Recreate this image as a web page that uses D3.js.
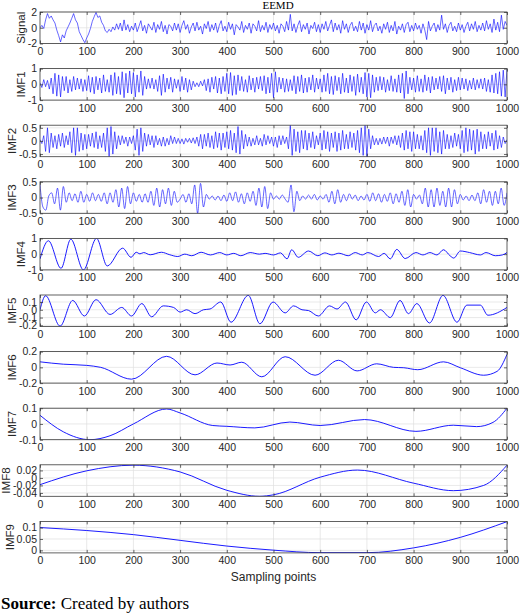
<!DOCTYPE html>
<html>
<head>
<meta charset="utf-8">
<script src="https://cdn.jsdelivr.net/npm/d3@7"></script>
<style>
body { margin: 0; background: #fff; }
</style>
</head>
<body>
<div id="chart"></div>
<script>
// sample axis
const sampleTicks = [0, 100, 200, 300, 400, 500, 600, 700, 800, 900, 1000];

const panelNames = ["Signal", "IMF1", "IMF2", "IMF3", "IMF4", "IMF5", "IMF6", "IMF7", "IMF8", "IMF9"];
const yTicks = [[-2, 0, 2], [-1, 0, 1], [-0.5, 0, 0.5], [-0.5, 0, 0.5], [-1, 0, 1],
    [-0.2, -0.1, 0, 0.1], [-0.2, 0, 0.2], [-0.1, 0, 0.1], [-0.04, -0.02, 0, 0.02], [0, 0.05, 0.1]];
const yRanges = [[-2, 2], [-1, 1], [-0.6, 0.6], [-0.5, 0.5], [-1, 1],
    [-0.215, 0.19], [-0.2, 0.2], [-0.1, 0.1], [-0.049, 0.035], [-0.011, 0.127]];

// signal, read every 4 samples
const signalVals = [
    0.0, 0.3, -0.1, 1.0, 1.8, 1.2, 1.5, 1.0, 0.6, -0.3, -1.0, -1.8, -0.9, -1.3, -0.4, 0.1, 0.6, 1.2, 1.8, 1.0, 0.6, -0.5, -1.0, -1.5, -1.9,
    -1.3, -0.8, -0.1, 0.8, 1.4, 1.95, 1.3, 1.5, 0.7, 0.3, -0.4, -0.6, -0.2, -0.5, 0.1, -0.3, 0.5, -0.2, 0.6, -0.4, 1.0, -0.3, 0.4, -0.5, 0.2,
    -0.3, 0.6, -0.5, 0.2, 0.9, -0.4, 0.3, -0.7, 0.5, 0.1, -0.3, 0.7, -0.6, 0.4, -0.2, 0.8, -0.5, 0.3, -0.8, 0.4, 0.2, -0.4, 0.6, -0.3, 0.5,
    -0.6, 0.3, 0.9, -0.2, 0.4, -0.7, 0.1, 0.6, -0.4, 0.7, -0.3, 0.2, -0.8, 0.5, -0.1, 0.8, -0.5, 0.4, -0.3, 0.6, -0.6, 0.3, 0.9, -0.4, 0.2,
    -0.5, 0.7, -0.2, 0.5, -0.9, 0.4, 0.1, -0.3, 0.8, -0.6, 0.3, -0.2, 0.6, -0.7, 0.5, 0.2, -0.4, 0.9, -0.5, 0.3, -0.3, 0.7, -0.6, 0.4, -0.2,
    0.6, -0.4, 0.3, -0.7, 0.5, 0.2, -0.5, 0.8, -0.3, 1.7, -0.4, 0.5, -0.6, 0.3, 0.9, -0.5, 0.4, -0.2, 0.6, -0.8, 0.3, -0.1, 0.7, -0.5, 0.4,
    -0.6, 0.5, -0.2, 0.8, -0.4, 0.3, 1.0, -0.5, 0.6, -0.3, 0.4, -0.7, 0.9, -0.2, 0.5, -0.6, 0.3, 0.7, -0.4, 0.2, -0.5, 0.8, -0.3, 0.6, -0.7,
    0.4, -0.3, 0.9, -0.5, 0.3, 0.6, -0.4, 0.2, -0.7, 0.5, -0.2, 0.7, -0.6, 0.3, -0.4, 0.8, -0.8, 0.2, -0.3, 0.5, -0.6, 0.4, 0.7, -0.5, 0.3,
    -0.4, 0.6, -0.2, 0.3, -0.7, 0.5, -0.3, -1.5, 0.8, -0.4, 0.2, 0.6, -0.5, 0.4, -0.3, 1.6, -0.2, 0.5, -0.6, 0.3, 0.7, -0.4, 0.2, -0.5, 0.6,
    -0.3, 0.4, -0.6, 0.2, 0.7, -0.4, 0.5, -0.2, 0.8, -0.5, 0.3, -0.3, 0.6, -0.4, 0.9, -0.2, 0.5, -0.6, 1.1, -0.3, 0.7, -0.5, 1.6, -0.2, 0.8,
    0.3
];

// IMF1, every 4 samples
const imf1Vals = [
    0.1, -0.2, 0.3, -0.15, 0.25, -0.3, 0.4, -0.6, 0.7, -0.75, 0.6, -0.8, 0.5, -0.4, 0.5, -0.55, 0.3, -0.45, 0.5, -0.35, 0.4, -0.3, 0.35, -0.45, 0.3,
    -0.4, 0.55, -0.5, 0.45, -0.6, 0.5, -0.35, 0.4, -0.55, 0.6, -0.45, 0.3, -0.5, 0.6, -0.7, 0.75, -0.6, 0.5, -0.65, 0.8, -0.85, 0.7, -0.55, 0.85, -0.6,
    0.75, -0.8, 0.6, -0.5, 0.85, -0.7, 0.5, -0.3, 0.35, -0.25, 0.4, -0.3, 0.3, -0.45, 0.55, -0.7, 0.65, -0.5, 0.4, -0.3, 0.45, -0.5, 0.35, -0.25, 0.3,
    -0.45, 0.5, -0.35, 0.4, -0.5, 0.3, -0.35, 0.2, -0.15, 0.1, -0.15, 0.2, -0.1, 0.3, -0.4, 0.35, -0.5, 0.45, -0.3, 0.5, -0.55, 0.4, -0.6, 0.5, -0.45,
    0.7, -0.6, 0.75, -0.7, 0.55, -0.65, 0.6, -0.4, 0.5, -0.45, 0.3, -0.5, 0.55, -0.35, 0.4, -0.5, 0.45, -0.3, 0.5, -0.4, 0.55, -0.6, 0.45, -0.55, 0.7,
    -0.85, 0.8, -0.5, 0.45, -0.3, 0.4, -0.5, 0.35, -0.45, 0.3, -0.4, 0.55, -0.6, 0.5, -0.45, 0.6, -0.55, 0.4, -0.5, 0.45, -0.35, 0.6, -0.5, 0.4, -0.3,
    0.35, -0.5, 0.6, -0.45, 0.7, -0.6, 0.5, -0.65, 0.55, -0.4, 0.45, -0.6, 0.7, -0.5, 0.4, -0.55, 0.6, -0.45, 0.5, -0.7, 0.65, -0.5, 0.45, -0.6, 0.75,
    -0.8, 0.7, -0.85, 0.6, -0.5, 0.45, -0.4, 0.5, -0.35, 0.45, -0.5, 0.3, -0.4, 0.55, -0.45, 0.35, -0.5, 0.6, -0.55, 0.7, -0.9, 0.85, -0.6, 0.45, -0.35,
    0.4, -0.5, 0.55, -0.45, 0.35, -0.5, 0.6, -0.4, 0.45, -0.55, 0.5, -0.35, 0.4, -0.3, 0.5, -0.45, 0.55, -0.6, 0.4, -0.35, 0.45, -0.5, 0.3, -0.4, 0.45,
    -0.35, 0.4, -0.3, 0.35, -0.4, 0.25, -0.3, 0.4, -0.35, 0.3, -0.25, 0.35, -0.3, 0.4, -0.45, 0.3, -0.5, 0.6, -0.55, 0.7, -0.6, 0.8, -0.75, 0.9, -0.8,
    0.95
];

// IMF2, every 4 samples
const imf2Vals = [
    0.05, -0.1, 0.2, -0.4, 0.5, -0.45, 0.3, -0.25, 0.2, -0.3, 0.25, -0.2, 0.3, -0.25, 0.2, -0.15, 0.35, -0.45, 0.5, -0.55, 0.5, -0.4, 0.3, -0.35, 0.25,
    -0.3, 0.25, -0.2, 0.3, -0.25, 0.35, -0.3, 0.2, -0.25, 0.3, -0.4, 0.5, -0.6, 0.55, -0.5, 0.35, -0.3, 0.2, -0.15, 0.2, -0.1, 0.15, -0.2, 0.15, -0.1,
    0.2, -0.35, 0.45, -0.55, 0.5, -0.4, 0.3, -0.2, 0.25, -0.15, 0.2, -0.25, 0.2, -0.15, 0.1, -0.2, 0.15, -0.2, 0.1, -0.15, 0.2, -0.1, 0.15, -0.1, 0.1,
    -0.1, 0.08, -0.12, 0.1, -0.05, 0.1, -0.08, 0.12, -0.1, 0.15, -0.2, 0.25, -0.3, 0.25, -0.2, 0.3, -0.25, 0.2, -0.3, 0.35, -0.25, 0.3, -0.35, 0.3, -0.25,
    0.35, -0.3, 0.4, -0.35, 0.3, -0.45, 0.55, -0.5, 0.4, -0.3, 0.25, -0.2, 0.15, -0.2, 0.1, -0.15, 0.2, -0.15, 0.1, -0.2, 0.25, -0.15, 0.2, -0.1, 0.15,
    -0.2, 0.15, -0.25, 0.2, -0.15, 0.2, -0.1, 0.15, -0.3, 0.6, -0.55, 0.45, -0.4, 0.35, -0.45, 0.4, -0.3, 0.4, -0.35, 0.3, -0.25, 0.35, -0.3, 0.2, -0.15,
    0.3, -0.35, 0.4, -0.3, 0.35, -0.4, 0.3, -0.25, 0.35, -0.4, 0.3, -0.35, 0.4, -0.3, 0.25, -0.3, 0.35, -0.25, 0.3, -0.35, 0.4, -0.45, 0.5, -0.55, 0.6,
    -0.6, 0.45, -0.3, 0.2, -0.15, 0.1, -0.15, 0.1, -0.12, 0.15, -0.1, 0.15, -0.2, 0.15, -0.1, 0.2, -0.15, 0.2, -0.25, 0.3, -0.35, 0.4, -0.3, 0.35, -0.4,
    0.35, -0.3, 0.25, -0.3, 0.2, -0.35, 0.4, -0.45, 0.5, -0.55, 0.5, -0.4, 0.5, -0.45, 0.35, -0.5, 0.4, -0.3, 0.25, -0.3, 0.2, -0.25, 0.3, -0.2, 0.25,
    -0.3, 0.4, -0.45, 0.5, -0.4, 0.45, -0.35, 0.4, -0.5, 0.45, -0.4, 0.35, -0.3, 0.25, -0.3, 0.35, -0.2, 0.3, -0.35, 0.4, -0.3, 0.2, -0.25, 0.15, -0.1,
    0.05
];

// IMF3, every 6.25 samples
const imf3Vals = [
    0.4, -0.3, -0.4, 0.05, 0.15, -0.2, 0.3, -0.4, 0.35, -0.15, 0.15, -0.1, 0.12, -0.15, 0.2, -0.15,
    0.1, -0.12, 0.15, -0.1, 0.1, -0.12, 0.15, -0.2, 0.15, -0.15, 0.25, -0.3, 0.3, -0.35, 0.35, -0.2,
    0.15, -0.12, 0.1, -0.15, 0.12, -0.15, 0.2, -0.25, 0.3, -0.3, 0.25, -0.2, 0.3, -0.25, 0.2, -0.15,
    -0.05, 0.1, -0.15, 0.12, -0.2, 0.4, -0.5, 0.45, -0.3, 0.1, -0.05, 0.05, -0.08, 0.05, -0.1, 0.08,
    -0.12, 0.15, -0.1, 0.18, -0.15, 0.12, -0.2, 0.15, -0.12, 0.2, -0.25, 0.3, -0.3, 0.35, -0.35, 0.15,
    -0.05, 0.05, -0.05, 0.08, -0.05, -0.15, 0.4, -0.45, 0.2, -0.1, 0.05, -0.05, 0.08, -0.05, 0.1, -0.08,
    0.05, -0.05, 0.1, -0.15, 0.2, -0.2, 0.25, -0.15, 0.1, -0.1, 0.12, -0.05, 0.08, -0.1, 0.05, -0.08,
    0.1, -0.12, 0.15, -0.1, 0.12, -0.15, 0.1, -0.12, 0.15, -0.2, 0.12, -0.15, 0.2, -0.25, 0.25, -0.3,
    0.1, -0.05, 0.08, -0.2, 0.3, -0.3, 0.25, -0.3, 0.3, -0.25, 0.2, -0.3, 0.3, -0.3, 0.25, -0.2,
    0.1, -0.08, 0.05, -0.1, 0.08, -0.1, 0.15, -0.2, 0.25, -0.15, 0.2, -0.25, 0.2, -0.2, 0.3, -0.25,
    0.15
];

// slower modes: [sample, value] at turning points
const imf4 = [[0, -0.3], [18, 0.85], [45, -0.9], [66, 0.95], [93, -1.0], [121, 1.0], [144, -0.75], [177, 0.38], [195, -0.2],
    [206, 0.12], [214, 0.02], [222, 0.1], [236, -0.04], [260, 0.12], [278, -0.04], [295, -0.15], [310, 0.0], [325, -0.1],
    [345, 0.12], [365, -0.05], [385, 0.1], [400, -0.05], [415, 0.05], [430, -0.1], [450, 0.1], [470, 0.0], [482, 0.05],
    [500, -0.05], [515, 0.08], [529, -0.3], [539, 0.28], [553, -0.2], [575, 0.2], [595, -0.1], [610, 0.08], [625, -0.05],
    [640, 0.06], [660, -0.1], [675, 0.1], [690, -0.05], [702, 0.1], [725, -0.15], [737, 0.05], [750, -0.3], [764, 0.3],
    [782, -0.28], [805, 0.1], [820, -0.05], [835, 0.1], [850, -0.05], [864, 0.28], [878, -0.1], [886, -0.25], [900, 0.2],
    [920, 0.1], [943, -0.05], [955, 0.1], [975, -0.1], [990, -0.05], [1000, 0.1]];
const imf5 = [[0, 0.0], [12, 0.18], [43, -0.21], [70, 0.12], [95, -0.08], [120, 0.13], [150, -0.06], [175, 0.03], [196, -0.08],
    [218, 0.08], [239, -0.09], [264, 0.05], [286, 0.03], [300, -0.03], [314, 0.0], [332, -0.05], [350, 0.0], [364, 0.01],
    [387, 0.1], [409, -0.16], [446, 0.185], [471, -0.18], [499, 0.1], [525, -0.04], [543, 0.05], [561, 0.0], [575, -0.01],
    [596, -0.08], [620, 0.05], [636, 0.01], [654, 0.1], [677, -0.13], [699, 0.1], [718, -0.04], [729, 0.0], [750, -0.1],
    [771, 0.12], [789, -0.05], [807, 0.08], [834, -0.17], [863, 0.185], [893, -0.16], [914, 0.06], [943, 0.06], [959, -0.07],
    [1000, 0.03]];
const imf6 = [[0, 0.07], [50, 0.04], [100, 0.025], [130, 0.0], [196, -0.15], [271, 0.14], [332, -0.095], [379, 0.055],
    [407, 0.03], [432, 0.065], [475, -0.12], [525, 0.135], [589, -0.1], [639, 0.09], [679, -0.045], [721, 0.045], [757, 0.0],
    [779, -0.005], [809, -0.03], [864, 0.07], [900, -0.005], [950, -0.1], [979, -0.05], [1000, 0.165]];
const imf7 = [[0, 0.055], [50, -0.05], [107, -0.1], [150, -0.075], [200, 0.0], [271, 0.095], [300, 0.07], [370, -0.01],
    [400, -0.015], [460, -0.025], [535, 0.012], [600, -0.01], [695, 0.028], [805, -0.047], [885, -0.008], [935, -0.017],
    [970, 0.01], [1000, 0.1]];
const imf8 = [[0, -0.018], [100, 0.019], [200, 0.034], [300, 0.016], [400, -0.033], [470, -0.049], [500, -0.045],
    [600, 0.002], [680, 0.021], [800, -0.014], [885, -0.034], [950, -0.02], [1000, 0.034]];
const imf9 = [[0, 0.1], [100, 0.087], [200, 0.069], [300, 0.044], [400, 0.019], [500, 0.001], [600, -0.01],
    [700, -0.01], [800, 0.011], [900, 0.057], [1000, 0.126]];

function sampled(vals, step) {
    return vals.map((v, i) => [i * step, v]);
}

const series = [sampled(signalVals, 4), sampled(imf1Vals, 4), sampled(imf2Vals, 4), sampled(imf3Vals, 6.25),
    imf4, imf5, imf6, imf7, imf8, imf9];

const width = 520, height = 614;
const left = 40, right = 507;
const firstTop = 12, panelStep = 56.6, panelH = 31.5;
const sans = "'Liberation Sans', Arial, sans-serif";
const serif = "'Liberation Serif', 'Times New Roman', serif";
const axisColor = "#262626";

const svg = d3.select("#chart").append("svg")
    .attr("width", width)
    .attr("height", height)
    .style("font-family", sans);

const x = d3.scaleLinear().domain([0, 1000]).range([left, right]);

svg.append("text")
    .text("EEMD")
    .attr("x", 278)
    .attr("y", 9)
    .attr("text-anchor", "middle")
    .style("font-family", serif)
    .style("font-size", "11px")
    .attr("fill", "#000");

panelNames.forEach(function (name, i) {
    const top = firstTop + i * panelStep;
    const bot = top + panelH;
    const y = d3.scaleLinear().domain(yRanges[i]).range([bot, top]);
    const g = svg.append("g");

    // grid
    g.append("g").selectAll("line")
        .data(sampleTicks.slice(1, -1))
        .enter().append("line")
        .attr("x1", d => x(d)).attr("x2", d => x(d))
        .attr("y1", top).attr("y2", bot)
        .attr("stroke", "#e0e0e0").attr("stroke-width", 0.7);
    g.append("g").selectAll("line")
        .data(yTicks[i])
        .enter().append("line")
        .attr("x1", left).attr("x2", right)
        .attr("y1", d => y(d)).attr("y2", d => y(d))
        .attr("stroke", "#e0e0e0").attr("stroke-width", 0.7);

    g.append("clipPath")
        .attr("id", "clip" + i)
        .append("rect")
        .attr("x", left).attr("y", top)
        .attr("width", right - left).attr("height", panelH);

    const curve = i < 3 ? d3.curveLinear : d3.curveMonotoneX;
    const line = d3.line()
        .x(d => x(d[0]))
        .y(d => y(d[1]))
        .curve(curve);

    g.append("path")
        .datum(series[i])
        .attr("d", line)
        .attr("clip-path", "url(#clip" + i + ")")
        .attr("fill", "none")
        .attr("stroke", "#0000ff")
        .attr("stroke-width", i < 4 ? 0.6 : 0.9);

    // axes, ticks pointing inward
    const xb = g.append("g")
        .attr("transform", "translate(0," + bot + ")")
        .call(d3.axisBottom(x).tickValues(sampleTicks).tickSizeInner(-3).tickSizeOuter(0).tickPadding(4)
            .tickFormat(d => String(d)));
    g.append("g")
        .attr("transform", "translate(0," + top + ")")
        .call(d3.axisTop(x).tickValues(sampleTicks).tickSizeInner(-3).tickSizeOuter(0).tickFormat(""));
    const yl = g.append("g")
        .attr("transform", "translate(" + left + ",0)")
        .call(d3.axisLeft(y).tickValues(yTicks[i]).tickSizeInner(-3).tickSizeOuter(0).tickPadding(3)
            .tickFormat(d => String(d)));
    g.append("g")
        .attr("transform", "translate(" + right + ",0)")
        .call(d3.axisRight(y).tickValues(yTicks[i]).tickSizeInner(-3).tickSizeOuter(0).tickFormat(""));

    g.selectAll(".domain").remove();
    g.selectAll(".tick line").attr("stroke", axisColor).attr("stroke-width", 0.7);
    xb.selectAll("text").attr("fill", axisColor).style("font-size", "10.5px").style("font-family", sans);
    yl.selectAll("text").attr("fill", axisColor).style("font-size", "10.5px").style("font-family", sans);

    g.append("rect")
        .attr("x", left).attr("y", top)
        .attr("width", right - left).attr("height", panelH)
        .attr("fill", "none")
        .attr("stroke", "#3a3a3a")
        .attr("stroke-width", 0.8);

    const box = yl.node().getBBox();
    g.append("text")
        .text(name)
        .attr("transform", "translate(" + (left + box.x - 3) + "," + ((top + bot) / 2) + ") rotate(-90)")
        .attr("text-anchor", "middle")
        .style("font-size", "11.5px")
        .attr("fill", axisColor);
});

svg.append("text")
    .text("Sampling points")
    .attr("x", (left + right) / 2)
    .attr("y", 581)
    .attr("text-anchor", "middle")
    .style("font-size", "12px")
    .attr("fill", axisColor);

const src = svg.append("text")
    .attr("x", 1)
    .attr("y", 609)
    .style("font-family", serif)
    .style("font-size", "17px")
    .attr("fill", "#000");
src.append("tspan").text("Source:").attr("font-weight", "bold");
src.append("tspan").text(" Created by authors");
</script>
</body>
</html>
